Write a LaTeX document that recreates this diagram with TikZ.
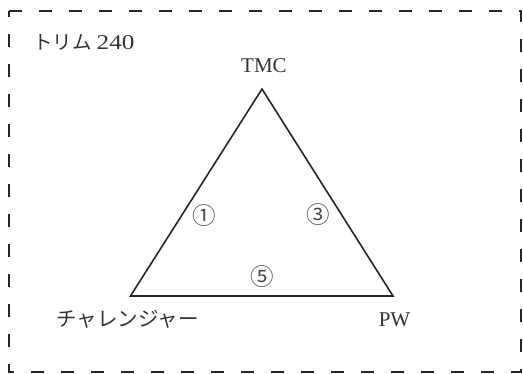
\documentclass[tikz,border=0pt]{standalone}
\usepackage{fontspec}
\setmainfont{Liberation Serif}
\newfontfamily\jpfont{Noto Sans CJK JP}
\begin{document}
\begin{tikzpicture}[x=1pt,y=-1pt,
  frame/.style={draw=black!85,line width=2pt,dash pattern=on 13pt off 17pt,dash phase=7pt},
  tri/.style={draw=black!85,line width=1.6pt,line join=miter},
  lbl/.style={inner sep=0pt,text=black!80,font=\fontsize{21}{24}\selectfont},
  jlbl/.style={inner sep=0pt,text=black!80,font=\fontsize{20.5}{24}\selectfont\jpfont},
  num/.style={inner sep=0pt,text=black!70,font=\fontsize{23.5}{26}\selectfont\jpfont}]
\useasboundingbox (0,0) rectangle (523,374);
\draw[frame] (9,11) rectangle (521,372);
\coordinate (T) at (262,89);
\coordinate (L) at (130.5,296);
\coordinate (R) at (393,296);
\draw[tri] (T) -- (R) -- (L) -- cycle;
\node[lbl,anchor=west] (title) at (33,42) {{\jpfont\fontsize{19.5}{24}\selectfont トリム}\hspace{5pt}\scalebox{1.2}[1]{240}};
\node[lbl] (tmc) at (264,66) {TMC};
\node[jlbl] (ch) at (127.5,319) {チャレンジャー};
\node[lbl] (pw) at (394.5,320) {PW};
\node[num] (n1) at (204,216) {①};
\node[num] (n3) at (318,215) {③};
\node[num] (n5) at (262,277) {⑤};
\end{tikzpicture}
\end{document}
